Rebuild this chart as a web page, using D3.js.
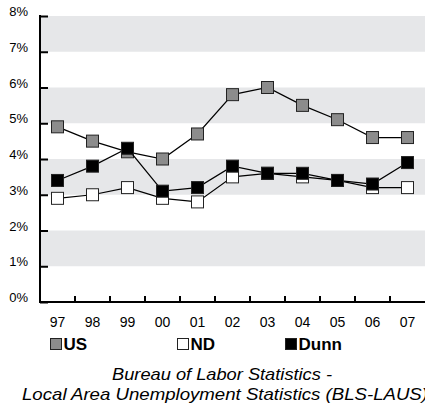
<!DOCTYPE html>
<html><head><meta charset="utf-8">
<script src="https://cdn.jsdelivr.net/npm/d3@7"></script>
<style>body{margin:0;background:#fff}svg{display:block;font-family:"Liberation Sans",Arial,sans-serif}</style>
</head><body><svg id="c" width="425" height="404"></svg>
<script>
const years = ["97","98","99","00","01","02","03","04","05","06","07"];
const usValues = [4.9,4.5,4.2,4.0,4.7,5.8,6.0,5.5,5.1,4.6,4.6];
const ndValues = [2.9,3.0,3.2,2.9,2.8,3.5,3.6,3.5,3.4,3.2,3.2];
const dunnValues = [3.4,3.8,4.3,3.1,3.2,3.8,3.6,3.6,3.4,3.3,3.9];
const yTicks = [0,1,2,3,4,5,6,7,8];
const seriesNames = ["US","ND","Dunn"];
const seriesFills = ["#8c8c8c","#ffffff","#000000"];

const svg = d3.select("#c");
const x0 = 40, x1 = 425, yTop = 16, yBot = 302;
const x = d3.scaleBand().domain(years).range([x0, x1]);
const y = d3.scaleLinear().domain([0, 8]).range([yBot, yTop]);

// bands
[[7,8],[5,6],[3,4],[1,2]].forEach(([a,b]) => {
  svg.append("rect").attr("x", x0).attr("y", y(b)).attr("width", x1 - x0)
    .attr("height", y(a) - y(b)).attr("fill", "#e6e7e9");
});

// y axis
const yAxis = svg.append("g").attr("transform", `translate(${x0},0)`)
  .call(d3.axisRight(y).tickValues(yTicks).tickSize(8).tickFormat(""));
yAxis.select(".domain").remove();
yAxis.selectAll("line").attr("stroke", "#000").attr("stroke-width", 2);
svg.append("line").attr("x1", x0).attr("x2", x0).attr("y1", yTop - 1).attr("y2", yBot + 1)
  .attr("stroke", "#000").attr("stroke-width", 2);
svg.selectAll(".ylab").data(yTicks).join("text").attr("class","ylab")
  .attr("x", 28).attr("y", d => y(d)).attr("text-anchor", "end")
  .attr("font-size", 13).attr("fill", "#000").text(d => d + "%");

// x axis
svg.append("line").attr("x1", x0 - 1).attr("x2", x1).attr("y1", yBot).attr("y2", yBot)
  .attr("stroke", "#000").attr("stroke-width", 2);
const boundaries = years.slice(1).map(d => x(d));
svg.selectAll(".xt").data(boundaries).join("line").attr("class","xt")
  .attr("x1", d => d).attr("x2", d => d).attr("y1", yBot - 6).attr("y2", yBot)
  .attr("stroke", "#000").attr("stroke-width", 2);
const xAxis = svg.append("g").attr("transform", `translate(0,${yBot})`)
  .call(d3.axisBottom(x).tickSize(0).tickPadding(0));
xAxis.select(".domain").remove();
xAxis.selectAll("text").attr("y", 25).attr("dy", null).attr("font-size", 14)
  .attr("font-family", "Liberation Sans, Arial, sans-serif").attr("fill", "#000");

// series
const all = [usValues, ndValues, dunnValues];
const line = d3.line().x((d,i) => x(years[i]) + x.bandwidth()/2).y(d => y(d));
all.forEach((vals, si) => {
  svg.append("path").attr("d", line(vals)).attr("fill", "none")
    .attr("stroke", "#000").attr("stroke-width", 1.2);
  svg.selectAll(".m" + si).data(vals).join("rect").attr("class", "m" + si)
    .attr("x", (d,i) => x(years[i]) + x.bandwidth()/2 - 6).attr("y", d => y(d) - 6)
    .attr("width", 12).attr("height", 12)
    .attr("fill", seriesFills[si]).attr("stroke", "#222").attr("stroke-width", 1);
});

// legend
const legX = [50, 177, 285];
seriesNames.forEach((n, i) => {
  svg.append("rect").attr("x", legX[i] + 0.5).attr("y", 338.5).attr("width", 11).attr("height", 11)
    .attr("fill", seriesFills[i]).attr("stroke", "#222").attr("stroke-width", 1);
  svg.append("text").attr("x", legX[i] + 13.5).attr("y", 350).attr("font-size", 17)
    .attr("font-weight", "bold").attr("fill", "#000").text(n);
});

// source
svg.append("text").attr("x", 222).attr("y", 380).attr("text-anchor", "middle")
  .attr("font-size", 17).attr("font-style", "italic")
  .attr("textLength", 220).attr("lengthAdjust", "spacingAndGlyphs").text("Bureau of Labor Statistics -");
svg.append("text").attr("x", 225).attr("y", 400).attr("text-anchor", "middle")
  .attr("font-size", 17).attr("font-style", "italic")
  .attr("textLength", 406).attr("lengthAdjust", "spacingAndGlyphs").text("Local Area Unemployment Statistics (BLS-LAUS)");
</script></body></html>
